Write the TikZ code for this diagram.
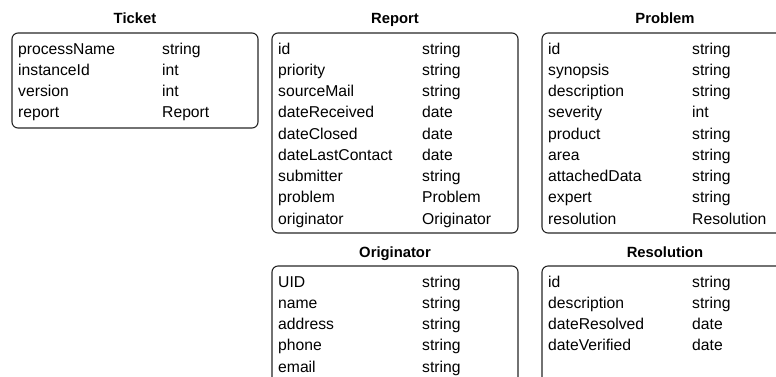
\documentclass[tikz,border=0pt]{standalone}
\usepackage{fontspec}
\setmainfont{Liberation Sans}
\begin{document}
\begin{tikzpicture}[x=1pt,y=-1pt,
  box/.style={draw=black!85, line width=1.1pt, rounded corners=6pt},
  ttl/.style={font=\fontsize{14.8}{16}\selectfont\bfseries, anchor=base, inner sep=0pt},
  fld/.style={font=\fontsize{15.7}{18}\selectfont, anchor=base west, inner sep=0pt}]
\useasboundingbox (0,0) rectangle (776,376);
\clip (0,0) rectangle (776,376);

% Ticket
\node[ttl] (tk) at (135,23) {Ticket};
\draw[box] (12,33) rectangle (258,128);
\foreach [count=\i from 0] \n/\t in {processName/string, instanceId/int, version/int, report/Report} {
  \node[fld] (tk-n\i) at (18,{54+21.25*\i}) {\n};
  \node[fld] (tk-t\i) at (162,{54+21.25*\i}) {\t};
}

% Report
\node[ttl] (rp) at (395,23) {Report};
\draw[box] (272,33) rectangle (518,233);
\foreach [count=\i from 0] \n/\t in {id/string, priority/string, sourceMail/string, dateReceived/date, dateClosed/date, dateLastContact/date, submitter/string, problem/Problem, originator/Originator} {
  \node[fld] (rp-n\i) at (278,{54+21.25*\i}) {\n};
  \node[fld] (rp-t\i) at (422,{54+21.25*\i}) {\t};
}

% Problem
\node[ttl] (pb) at (665,23) {Problem};
\draw[box] (542,33) rectangle (788,233);
\foreach [count=\i from 0] \n/\t in {id/string, synopsis/string, description/string, severity/int, product/string, area/string, attachedData/string, expert/string, resolution/Resolution} {
  \node[fld] (pb-n\i) at (548,{54+21.25*\i}) {\n};
  \node[fld] (pb-t\i) at (692,{54+21.25*\i}) {\t};
}

% Originator
\node[ttl] (or) at (395,257) {Originator};
\draw[box] (272,266) rectangle (518,400);
\foreach [count=\i from 0] \n/\t in {UID/string, name/string, address/string, phone/string, email/string} {
  \node[fld] (or-n\i) at (278,{287+21.25*\i}) {\n};
  \node[fld] (or-t\i) at (422,{287+21.25*\i}) {\t};
}

% Resolution
\node[ttl] (rs) at (665,257) {Resolution};
\draw[box] (542,266) rectangle (788,400);
\foreach [count=\i from 0] \n/\t in {id/string, description/string, dateResolved/date, dateVerified/date} {
  \node[fld] (rs-n\i) at (548,{287+21.25*\i}) {\n};
  \node[fld] (rs-t\i) at (692,{287+21.25*\i}) {\t};
}
\end{tikzpicture}
\end{document}
